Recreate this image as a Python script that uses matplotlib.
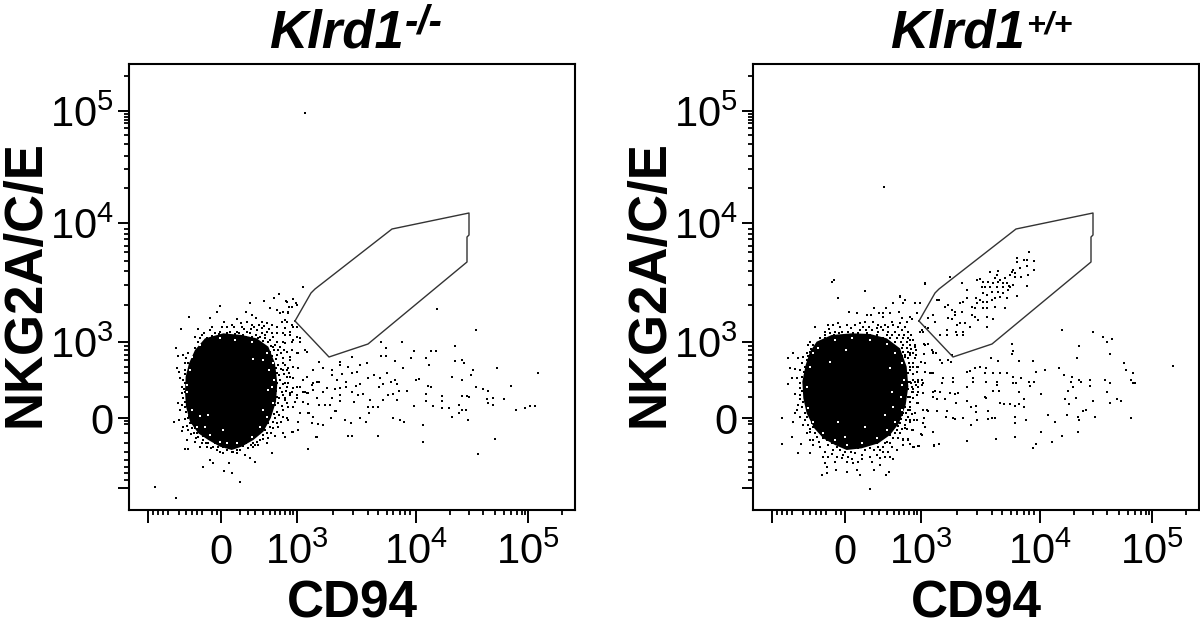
import matplotlib
matplotlib.use('Agg')
import matplotlib.pyplot as plt
import numpy as np

plt.rcParams['font.family'] = ['Liberation Sans', 'DejaVu Sans']
plt.rcParams['mathtext.default'] = 'regular'

# axis ticks, in display channels of the biexponential scale (0-446)
major_x = [19, 92, 168, 287, 399]
major_x_labels = ['', '0', r'$10^3$', r'$10^4$', r'$10^5$']
minor_x = [24, 29, 34, 39, 50, 57, 63, 68, 73, 83, 88, 111, 119, 126, 134, 141, 146, 151, 156, 161, 164,
           204, 224, 239, 249, 258, 264, 271, 276, 281, 321, 340, 354, 366, 375, 382, 388, 393, 396, 433]
major_y = [22, 92, 168, 287, 399]
major_y_labels = ['', '0', r'$10^3$', r'$10^4$', r'$10^5$']
minor_y = [30, 37, 43, 50, 58, 67, 77, 86, 89, 113, 128, 137, 143, 150, 155, 160, 164,
           205, 225, 239, 249, 258, 264, 271, 276, 281, 322, 341, 354, 366, 375, 382, 387, 390, 393, 396, 434]
medium_ticks = [50, 204, 205, 321, 322, 433, 434, 113, 111]

# gate, channels
gate_x = [166, 182, 186, 263, 340, 340, 338, 338, 239, 200, 166]
gate_y = [189, 217, 221, 281, 297, 275, 273, 248, 166, 153, 189]

left_core = [(255,205),(310,190),(365,195),(410,205),(445,230),(465,280),(472,340),(468,395),(452,445),(430,485),(400,510),
             (365,530),(335,540),(300,530),(265,510),(235,490),(210,455),(198,410),(195,365),(197,320),(207,280),(225,240)]
right_core = [(215,215),(260,195),(320,190),(375,192),(425,205),(465,235),(485,290),(490,350),(482,405),(462,460),(435,495),
              (400,520),(350,535),(305,540),(270,525),(235,505),(208,475),(185,430),(175,385),(172,335),(182,285),(195,245)]

left_fringe = [(300,108),(292,125),(208,140),(270,145),(183,176),(235,177),(312,157),(352,146),(378,125),(390,98),(432,92),(462,85),(477,72),(500,95),(520,88),(527,100),(515,110),(450,115),(472,120),(490,125),(505,130),(395,135),(408,143),(380,155),(362,160),(425,155),(440,160),(455,165),(470,170),(485,155),(500,155),(515,165),(530,170),(550,50),
    (270,180),(285,190),(305,170),(320,190),(335,165),(350,185),(365,170),(380,185),(395,165),(410,180),(425,175),(440,185),(455,190),(470,190),(490,190),(510,195),(245,195),(225,200),(260,205),(300,200),(318,205),(340,200),(360,205),(378,200),(395,200),(415,205),(435,205),(450,210),(470,215),(490,215),(235,215),(250,225),(225,235),(300,185),(330,185),(358,190),(390,190),(425,190),
    (460,230),(480,230),(500,245),(520,210),(540,205),(515,240),(450,245),(470,255),(490,265),(510,270),(535,250),(560,245),(455,270),(475,285),(450,300),(470,310),(490,300),(505,295),(535,295),(455,320),(480,330),(500,320),(520,325),(460,345),(480,355),(500,350),(520,355),(540,350),(555,365),(575,345),(590,335),(455,365),(470,380),(490,375),(510,375),(530,385),(560,370),(455,395),(475,400),(500,400),(525,395),(550,395),(455,415),(470,425),(490,420),(450,440),(465,445),(490,440),(540,430),(565,430),(580,440),(445,460),(460,475),(475,470),(490,490),(515,487),(535,480),(435,480),(430,495),(445,505),(420,510),(400,520),(415,525),(495,500),(505,450),(535,455),
    (168,235),(175,258),(188,255),(205,250),(215,262),(195,280),(170,295),(178,305),(195,300),(205,315),(180,325),(195,340),(185,350),(205,350),(195,365),(210,375),(185,370),(190,385),(205,395),(175,398),(195,410),(210,425),(180,420),(205,445),(162,455),(178,450),(190,470),(185,483),(215,460),(225,475),(240,490),(205,480),
    (235,500),(250,510),(265,520),(280,530),(300,545),(320,540),(340,545),(360,540),(385,535),(405,525),(200,510),(195,538),(205,538),(240,530),(260,530),(290,540),(350,550),(375,555),(390,565),(405,575),(270,570),(280,580),(250,590),(312,604),(337,610),(327,580),(455,548),(565,537),(590,500),(610,465),(225,515),(350,525),
    (104,652),(167,683),(359,636)]
left_dense = [(240,205),(252,190),(262,212),(275,198),(288,205),(296,192),(306,210),(312,195),(326,198),(334,210),(345,192),(352,212),(368,195),(372,212),(386,208),(392,178),(404,212),(408,195),(420,200),(428,212),(436,195),(443,215),(448,178),(458,200),(466,225),(275,172),(322,170),(343,172),(372,178),(402,172),(418,165),(432,168),
    (452,228),(462,240),(475,240),(455,258),(468,268),(482,250),(492,240),(458,282),(468,295),(482,298),(495,285),(455,308),(465,325),(478,315),(492,312),(508,310),(452,335),(470,340),(488,342),(505,340),(452,352),(468,362),(485,365),(498,362),(515,365),(460,380),(478,385),(495,385),(452,382),(465,405),(485,408),(505,412),(452,425),(462,432),(478,435),(458,455),(470,458),(482,455),(450,470),(440,488),(452,490),(465,498),(428,508),(440,518),(410,515),(392,508),(398,530),
    (198,265),(205,278),(210,292),(196,312),(188,330),(200,328),(192,358),(200,378),(195,395),(205,408),(186,405),(198,425),(208,438),(195,448),(210,458),(200,468),(215,475),(222,490),(232,490),(228,505),(212,492),
    (248,498),(258,495),(272,510),(285,518),(295,530),(308,530),(325,530),(335,545),(350,540),(368,528),(378,520),(392,525),(272,535),(258,518),(245,520),(310,548)]
left_holes = [(240,437),(200,345),(200,365),(255,470),(400,268),(265,435),(460,280),(310,480),(320,520),
    (430,270),(448,300),(462,330),(445,360),(460,400),(440,440),(420,470),(395,500),(350,520),(300,515),(270,495),(230,470),(215,420),(210,300),(240,225),(300,205),(345,210),(395,215),(440,250),(215,260),(455,350),(430,420)]

right_fringe = [(267,30),(262,37),(278,83),(360,62),(465,77),(510,98),(525,98),(540,42),(445,98),(475,98),(387,113),(422,113),(462,125),(312,126),(335,130),(365,135),(378,135),(402,128),(415,128),(435,130),(415,142),(442,155),(470,145),(495,140),(500,148),(515,130),(280,160),(305,165),(330,165),(345,160),(360,155),(385,155),(400,165),(420,165),(445,165),(465,160),(210,170),(250,165),(265,165),
    (240,185),(255,190),(270,185),(290,185),(310,185),(325,190),(345,180),(362,180),(380,180),(395,175),(415,180),(430,185),(450,185),(470,180),(490,185),(225,205),(240,205),(262,205),(280,200),(300,200),(335,200),(350,195),(375,195),(395,195),(415,205),(435,205),(455,205),(475,205),(490,205),(505,210),(195,215),(205,225),(475,225),(495,225),(510,225),(475,245),(490,245),(505,250),(530,180),(540,225),(560,240),(565,250),(185,250),(195,245),(175,262),(185,270),(205,275),(145,250),(130,265),(160,265),(180,290),(195,295),(135,295),(150,298),(165,300),(475,270),(490,265),(505,280),(480,295),(495,300),(520,290),(540,305),(560,310),(475,320),(490,335),(505,330),(520,335),(530,345),(475,345),(500,350),(520,350),(140,325),(155,325),(128,342),(170,320),(180,340),(165,355),(180,360),(150,372),(165,375),(185,375),(175,395),(190,400),(205,415),(160,405),(150,430),(155,420),(180,430),(195,440),(112,445),(145,455),(180,450),(200,460),(205,470),(480,370),(500,365),(515,375),(535,370),(565,365),(480,390),(495,395),(520,400),(545,420),(470,415),(490,420),(510,430),(470,435),(490,440),(515,450),(535,460),(465,460),(480,465),(500,480),(530,495),(455,480),(445,475),(465,490),(490,510),(505,530),(520,528),(475,525),(445,505),(435,520),(455,540),(563,487),(568,525),(583,522),(112,522),(142,502),(168,522),(158,548),(185,490),(195,485),(195,510),(205,525),(220,480),(235,490),(245,510),(225,530),(240,545),(195,550),(235,560),(250,560),(265,540),(275,560),(295,555),(310,560),(330,550),(350,555),(375,560),(395,555),(415,545),(435,560),(445,568),(420,560),(400,530),(420,520),(240,578),(245,590),(270,575),(290,565),(305,575),(325,580),(340,575),(380,575),(405,585),(335,600),(305,605),(272,600),(232,615),(247,610),(345,615),(387,600),(423,615),(433,605),(375,657)]
right_dense = [(225,215),(240,195),(252,218),(268,195),(282,190),(296,208),(308,195),(322,205),(338,190),(352,205),(366,190),(382,205),(398,185),(405,205),(425,195),(442,195),(450,215),(462,195),(478,195),(468,215),(485,215),(498,195),(252,178),(285,172),(318,175),(355,170),(372,170),(408,170),(428,172),(458,172),(480,170),
    (472,235),(485,235),(498,238),(480,255),(495,255),(512,240),(472,258),(478,282),(492,280),(510,265),(475,308),(488,310),(505,312),(515,305),(472,332),(482,345),(498,340),(512,345),(472,360),(488,358),(505,358),(472,378),(490,380),(505,385),(478,405),(495,410),(472,425),(482,430),(500,432),(468,448),(482,450),(495,455),(458,468),(470,478),(485,478),(450,490),(460,505),(475,510),(435,495),(425,515),(440,530),(415,530),(430,545),(395,520),(405,540),
    (190,225),(198,238),(215,235),(188,258),(200,262),(172,280),(190,282),(178,305),(190,312),(178,330),(165,340),(188,350),(172,362),(185,390),(165,388),(172,410),(190,420),(165,440),(185,442),(175,465),(190,465),(195,478),(210,490),(215,500),(205,510),(222,515),
    (235,505),(250,525),(262,518),(275,530),(262,552),(285,540),(300,545),(318,545),(340,535),(360,540),(375,535),(388,540),(350,568),(320,568),(405,565)]
right_holes = [(302,240),(255,275),(278,455),(360,470),(420,435),(435,295),(440,365),(300,500),
    (450,250),(470,280),(478,330),(468,380),(470,420),(450,455),(425,480),(395,505),(350,520),(305,525),(270,510),(235,490),(205,455),(190,415),(185,350),(195,290),(220,235),(270,210),(320,205),(375,210),(425,222),(205,250),(470,345),(445,410)]

# sparse events, channels
left_sparse = [(176,397),(308,201),(347,180),(273,168),(326,164),(252,168),(257,162),(257,154),(252,154),(285,159),(302,159),(307,159),(282,152),(297,152),(266,149),(300,145),(326,149),(333,150),(335,147),(368,142),(409,137),(274,142),(344,140),(342,135),(323,133),(333,130),(290,131),(287,130),(382,124),(347,123),(354,121),(359,119),(299,124),(302,123),(297,116),(313,114),(313,109),(297,109),(333,114),(340,113),(338,114),(358,111),(364,112),(364,105),(359,107),(375,111),(285,104),(304,104),(313,102),(320,102),(330,105),(333,100),(337,100),(330,97),(323,93),(387,100),(396,102),(401,104),(406,104),(339,90),(294,85),(366,71),(294,68),(349,56),(264,92),(271,90),(275,88),(249,74),(219,74),(223,74),(237,88),(231,92),(216,90),(222,87),(202,92),(194,85),(189,86),(183,87),(187,73),(179,61),(169,80),(164,78),(156,73),(171,97),(180,97),(184,93),(169,88),(207,99),
    (211,148),(211,145),(223,153),(219,143),(231,145),(238,147),(203,140),(203,135),(213,136),(228,138),(223,137),(239,132),(245,135),(258,137),(251,132),(266,130),(262,128),(268,126),(231,126),(227,124),(217,128),(208,130),(194,142),(190,148),(184,140),(178,133),(190,128),(184,127),(198,122),(206,121),(211,122),(217,123),(223,118),(234,116),(229,115),(225,108),(211,115),(211,109),(203,112),(194,118),(188,112),(179,117),(174,118),(168,115),(166,108),(179,106),(190,105),(196,105),(201,105),(206,99),(241,110),(239,103),(244,103),(249,103),(254,110),(259,115),(264,116),(268,110),(270,119),(278,119),(250,123),(254,126),(240,97),(184,120),(174,130),(168,123),(161,133),(164,143),(169,142),(176,160),(168,157),(161,153),(154,147),(158,140),(156,127),(161,117),(156,110),(164,103),(158,92),
    (174,223),(164,211),(157,209),(160,203),(168,205),(159,198),(151,197),(156,190),(164,183),(156,182),(161,178),(156,175),(168,173),(163,168),(171,168),(156,167)]

right_sparse = [(818,498),(486,390),(578,395),(610,410),(635,417),(620,427),(538,437),(630,463),(532,473),(672,488),(678,510),(698,520),(692,540),(700,550),(705,550),(335,432),(340,452),(335,463),(356,483),(398,483),(476,504),(491,525),(435,510),(408,515),(516,530),(512,545),(538,540),(543,545),(570,540),(570,557),(616,540),(630,550),(620,577),(505,572),(520,560),(424,582),(388,545),(402,545),(390,557),(340,550),(347,550),(362,535),(340,530),(496,598),(527,593),(506,613),(578,603),(630,608),(650,598),(662,603),(558,630),(548,634),(502,645),(535,650),(538,660),(585,650),(692,655),(445,645),(465,665),(378,660),(346,650),(346,670),(424,696),(486,707),(533,696),(346,712),(455,727),(408,733),(398,743),(289,717),(201,722),(118,732),(103,737),(42,742),(57,738),(212,675),(232,660),(265,658),(275,655),(285,655),(188,655),(160,655),(165,658),(138,650),(140,632),(112,633),(85,633),(300,608),(312,613),(330,613),(345,618),(358,613),(372,622),(372,598),(358,577),(255,590),(258,595),(280,573),(297,573),(290,555),(290,547),(258,545),(218,545),(218,535),(200,560),(160,535),(160,547),(200,515),(210,513),(225,505),(240,500),(258,505),(255,520),(272,473),(295,483),(280,520),(300,520),(320,520),(175,580),(165,583),(150,578),(135,597),(168,608),(202,603),(213,622),(228,618),(228,635),(264,633),(120,575),(105,572),(100,590),(110,597),(55,610),(80,630),(70,630),(72,655),(42,660),(40,690),(75,680),(100,695),(62,702),(25,716),(10,716),(30,733),(15,685),
    (60,395),(68,395),(72,433),(85,433),(72,463),(100,455),(108,460),(62,485),(75,490),(50,500),(75,515),(90,518),(100,518),(125,490),(120,480),(145,480),(130,535),(125,550),(30,545),(45,545),(55,540),(65,540),(70,550),(40,575),(55,575),(30,590),(50,610),(15,620),(30,630),(10,640),(30,660),(30,420),(40,420),(45,440),(30,460),(15,470),(25,475),(48,465),(40,500),(30,500),(10,510)]
right_gated = [(388,157),(350,175),(350,185),(372,180),(382,180),(403,183),(403,210),(380,198),(360,205),(340,210),(335,215),(345,220),(330,225),(295,212),(270,215),(290,225),(285,235),(300,240),(315,235),(345,230),(362,232),(385,225),(240,237),(232,240),(250,245),(265,245),(280,250),(295,245),(310,250),(320,250),(328,258),(340,255),(245,260),(255,262),(270,262),(290,262),(310,262),(330,262),(382,257),(275,275),(262,285),(250,280),(295,275),(310,280),(325,270),(352,287),(228,295),(240,300),(250,305),(262,305),(275,300),(285,295),(300,290),(320,295),(232,310),(215,320),(225,325),(250,325),(262,325),(285,320),(315,323),(190,305),(200,295),(180,310),(200,270),(185,250),(150,230),(118,300),(145,315),(135,320),(155,330),(165,335),(185,335),(215,345),(235,360),(225,350),(145,355),(155,358),(165,345),(260,350),(280,358),(170,375),(180,370),(195,370),(210,380),(260,380),(140,390),(168,395),(188,395),(188,405),(172,405),(140,405),(120,405),(100,345),(85,355),(105,365),(75,380),(85,385),(110,300),(75,250),(30,350),(20,365),(45,310),(60,310),(15,300),(0,290),(155,465),(152,485)]


def from_crop(readings, dx, dy):
    # crop readings to channels
    r = np.array(readings, dtype=float)
    return r[:, 0] / 3 + dx, dy - r[:, 1] / 3


def draw_panel(left_px, core, fringe, dense, holes, sparse, crop_dx, title, sup, sup_size):
    ax = fig.add_axes([left_px / 1200, 1 - 510 / 624, 446 / 1200, 446 / 624])
    cx, cy = from_crop(core, crop_dx, 240)
    ax.fill(cx, cy, color='black', lw=0)
    fx, fy = from_crop(fringe, crop_dx, 240)
    ax.scatter(fx, fy, s=1.6, c='black', marker='s', linewidths=0)
    dx, dy = from_crop(dense, crop_dx, 240)
    ax.scatter(dx, dy, s=3, c='black', marker='s', linewidths=0)
    hx, hy = from_crop(holes, crop_dx, 240)
    ax.scatter(hx, hy, s=1.6, c='white', marker='s', linewidths=0)
    ax.scatter(sparse[0], sparse[1], s=1.0, c='black', marker='s', linewidths=0)
    ax.plot(gate_x, gate_y, color='#333333', lw=1.0)
    ax.set_xlim(0, 446)
    ax.set_ylim(0, 446)
    ax.set_xticks(major_x, major_x_labels)
    ax.set_yticks(major_y, major_y_labels)
    ax.set_xticks(minor_x, minor=True)
    ax.set_yticks(minor_y, minor=True)
    ax.tick_params(axis='x', which='major', length=9.5, width=1.4, labelsize=30, pad=7)
    ax.tick_params(axis='y', which='major', length=8, width=1.4, labelsize=30, pad=3)
    ax.tick_params(which='minor', length=3.5, width=1.3)
    for axis in (ax.xaxis, ax.yaxis):
        for tick in axis.get_minor_ticks():
            if tick.get_loc() in medium_ticks:
                tick.tick1line.set_markersize(5.5)
    for s in ax.spines.values():
        s.set_linewidth(1.5)
    ax.set_xlabel('CD94', fontsize=37, fontweight='bold')
    ax.xaxis.set_label_coords(0.5, -0.155, transform=ax.transAxes)
    ax.set_ylabel('NKG2A/C/E', fontsize=38, fontweight='bold')
    ax.yaxis.set_label_coords(-0.175, 0.508, transform=ax.transAxes)
    ax.text(title, 1 + 17 / 446, 'Klrd1', fontsize=38, fontweight='bold', style='italic', ha='right', va='baseline', transform=ax.transAxes)
    ax.text(title + 0.003, 1 + 30 / 446, sup, fontsize=sup_size, fontweight='bold', style='italic', ha='left', va='baseline', transform=ax.transAxes)
    return ax


fig = plt.figure(figsize=(12, 6.24), dpi=100)

lx, ly = zip(*left_sparse)
rx1, ry1 = from_crop(right_sparse, 147, 310)
rx2, ry2 = from_crop(right_gated, 147, 310)

draw_panel(129, left_core, left_fringe, left_dense, left_holes, (lx, ly), -9, 275 / 446, '-/-', 29)
draw_panel(753, right_core, right_fringe, right_dense, right_holes,
           (np.r_[rx1, rx2, 131], np.r_[ry1, ry2, 323]), -8, 272 / 446, '+/+', 23)

fig.savefig('out.png', dpi=100)
